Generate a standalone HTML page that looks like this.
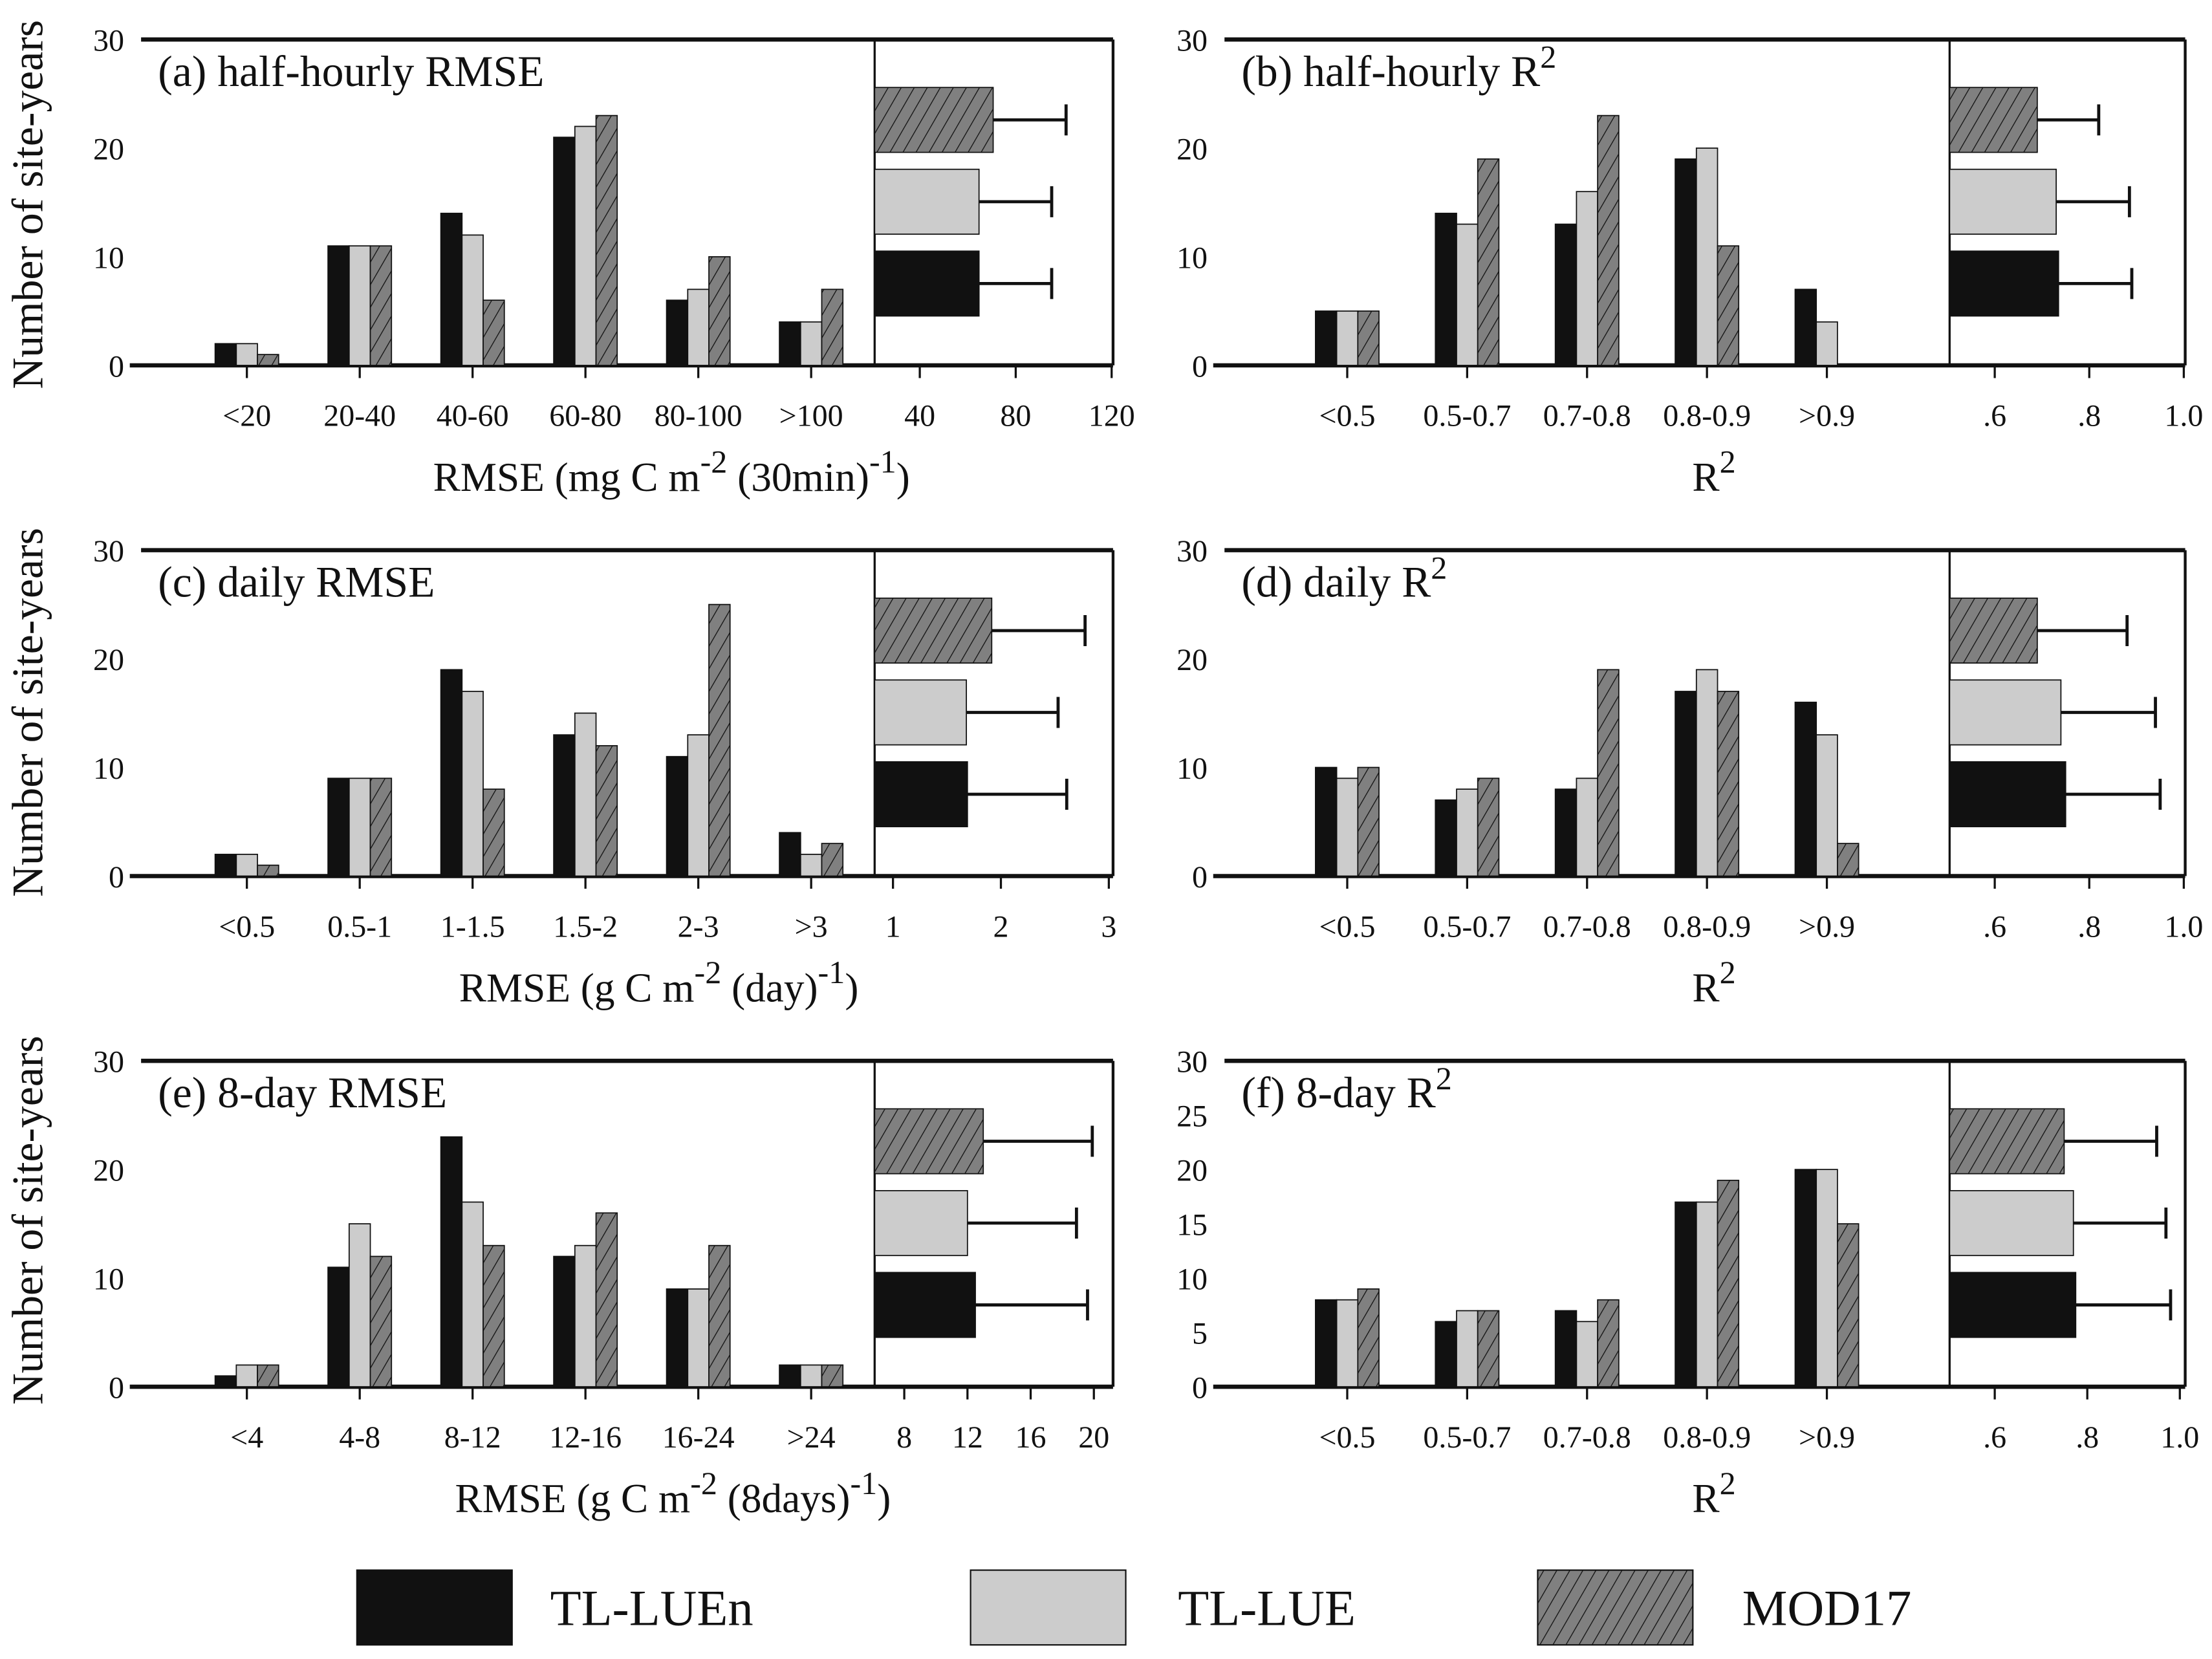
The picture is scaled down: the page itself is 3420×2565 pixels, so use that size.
<!DOCTYPE html>
<html><head><meta charset="utf-8"><style>
html,body{margin:0;padding:0;background:#fff}
svg{display:block}
text{font-family:"Liberation Serif",serif;fill:#111}
</style></head><body>
<svg id="c" width="3420" height="2565" viewBox="0 0 1568 1176" xmlns="http://www.w3.org/2000/svg">
<defs>
<pattern id="hatch" patternUnits="userSpaceOnUse" width="8" height="8" patternTransform="rotate(30)">
<rect width="8" height="8" fill="#808080"/><line x1="0" y1="0" x2="0" y2="8" stroke="#111" stroke-width="1.2"/>
</pattern>
</defs>
</svg>
<script>
const cats_rmse_a=["<20","20-40","40-60","60-80","80-100",">100"];
const cats_rmse_c=["<0.5","0.5-1","1-1.5","1.5-2","2-3",">3"];
const cats_rmse_e=["<4","4-8","8-12","12-16","16-24",">24"];
const cats_r2=["<0.5","0.5-0.7","0.7-0.8","0.8-0.9",">0.9"];
const a_luen=[2,11,14,21,6,4], a_lue=[2,11,12,22,7,4], a_mod=[1,11,6,23,10,7];
const b_luen=[5,14,13,19,7], b_lue=[5,13,16,20,4], b_mod=[5,19,23,11,0];
const c_luen=[2,9,19,13,11,4], c_lue=[2,9,17,15,13,2], c_mod=[1,9,8,12,25,3];
const d_luen=[10,7,8,17,16], d_lue=[9,8,9,19,13], d_mod=[10,9,19,17,3];
const e_luen=[1,11,23,12,9,2], e_lue=[2,15,17,13,9,2], e_mod=[2,12,13,16,13,2];
const f_luen=[8,6,7,17,20], f_lue=[8,7,6,17,20], f_mod=[9,7,8,19,15];
// inset means [MOD17, TL-LUE, TL-LUEn] and mean+sd
const a_mean=[70.6,64.7,64.7], a_err=[101,95,95];
const b_mean=[0.69,0.73,0.735], b_err=[0.82,0.885,0.89];
const c_mean=[1.915,1.68,1.69], c_err=[2.78,2.53,2.61];
const d_mean=[0.69,0.74,0.75], d_err=[0.88,0.94,0.95];
const e_mean=[13,12,12.5], e_err=[19.9,18.9,19.6];
const f_mean=[0.75,0.77,0.775], f_err=[0.95,0.97,0.98];
const a_ticks=[40,80,120], b_ticks=[0.6,0.8,1.0], c_ticks=[1,2,3], e_ticks=[8,12,16,20];
const b_tlab=[".6",".8","1.0"];
const y30=[0,10,20,30], y30f=[0,5,10,15,20,25,30];

const svg=document.getElementById('c');
const NS="http://www.w3.org/2000/svg";
function el(tag,attrs,parent){const e=document.createElementNS(NS,tag);for(const k in attrs)e.setAttribute(k,attrs[k]);(parent||svg).appendChild(e);return e;}
function txt(s,x,y,size,anchor,parent){const t=el('text',{x:x,y:y,'font-size':size,'text-anchor':anchor||'start'},parent);t.textContent=s;return t;}
const fills=["#111","#cccccc","url(#hatch)"];

function panel(o){
  const g=el('g',{});
  
  
  const top=o.top,bot=o.top+231;
  const yS=v=>bot-(v/30)*(bot-top);
  el('line',{x1:o.x0,y1:top,x2:o.x2,y2:top,stroke:'#111','stroke-width':3},g);
  el('line',{x1:o.x0-8,y1:bot,x2:o.x2,y2:bot,stroke:'#111','stroke-width':3},g);
  el('line',{x1:o.x1,y1:top,x2:o.x1,y2:bot,stroke:'#111','stroke-width':1.5},g);
  el('line',{x1:o.x2,y1:top,x2:o.x2,y2:bot,stroke:'#111','stroke-width':2},g);
  o.yt.forEach(v=>{txt(String(v),o.x0-12,yS(v)+8,22,'end',g);});
  o.cats.forEach((c,i)=>{
    const cx=o.cx0+i*o.dx;
    [o.s1,o.s2,o.s3].forEach((s,j)=>{
      const v=s[i]; if(v<=0)return;
      const r=el('rect',{x:cx-22.5+j*15,y:yS(v),width:15,height:bot-yS(v),fill:fills[j],stroke:'#111','stroke-width':0.8},g);
      
      
    });
    el('line',{x1:cx,y1:bot,x2:cx,y2:bot+9,stroke:'#111','stroke-width':1.5},g);
    const t=txt(c,cx,bot+43,22,'middle',g);
    
    
  });
  const xS=v=>o.ia+(v-o.iv0)*o.ik;
  o.it.forEach((v,k)=>{const x=xS(v);el('line',{x1:x,y1:bot,x2:x,y2:bot+9,stroke:'#111','stroke-width':1.5},g);txt(o.itl?o.itl[k]:String(v),x,bot+43,22,'middle',g);});
  const ys=[top+34,top+92,top+150], hfill=[fills[2],fills[1],fills[0]];
  o.mean.forEach((m,k)=>{
    const y=ys[k];
    const r=el('rect',{x:o.x1,y:y,width:xS(m)-o.x1,height:46,fill:hfill[k],stroke:'#111','stroke-width':0.8},g);
    
    
    el('line',{x1:xS(m),y1:y+23,x2:xS(o.err[k]),y2:y+23,stroke:'#111','stroke-width':2.2},g);
    el('line',{x1:xS(o.err[k]),y1:y+12,x2:xS(o.err[k]),y2:y+34,stroke:'#111','stroke-width':2.2},g);
  });
  const tt=el('text',{x:o.x0+12,y:top+33,'font-size':31},g);
  tt.innerHTML=o.title;
  
  
  const xt=el('text',{x:o.xtx,y:bot+89,'font-size':29,'text-anchor':'middle'},g);
  xt.innerHTML=o.xtitle;
  
  
}
const L={x0:100,x1:620,x2:789,cx0:175,dx:80}, R={x0:868,x1:1382,x2:1549,cx0:955,dx:85};
const sup=(s)=>'<tspan dy="-13" font-size="23">'+s+'</tspan><tspan dy="13">';
panel({...L,id:'a',name:'panel-a',top:28,cats:cats_rmse_a,s1:a_luen,s2:a_lue,s3:a_mod,yt:y30,ia:652,iv0:40,ik:1.7,it:a_ticks,mean:a_mean,err:a_err,title:'(a) half-hourly RMSE',xtx:476,xtitle:'RMSE (mg C m'+sup('-2')+' (30min)'+sup('-1')+')</tspan></tspan>'});
panel({...R,id:'b',name:'panel-b',top:28,cats:cats_r2,s1:b_luen,s2:b_lue,s3:b_mod,yt:y30,ia:1414,iv0:0.6,ik:335,it:b_ticks,itl:b_tlab,mean:b_mean,err:b_err,title:'(b) half-hourly R'+sup('2')+'</tspan>',xtx:1215,xtitle:'R'+sup('2')+'</tspan>'});
panel({...L,id:'c',name:'panel-c',top:390,cats:cats_rmse_c,s1:c_luen,s2:c_lue,s3:c_mod,yt:y30,ia:633,iv0:1,ik:76.5,it:c_ticks,mean:c_mean,err:c_err,title:'(c) daily RMSE',xtx:467,xtitle:'RMSE (g C m'+sup('-2')+' (day)'+sup('-1')+')</tspan></tspan>'});
panel({...R,id:'d',name:'panel-d',top:390,cats:cats_r2,s1:d_luen,s2:d_lue,s3:d_mod,yt:y30,ia:1414,iv0:0.6,ik:335,it:b_ticks,itl:b_tlab,mean:d_mean,err:d_err,title:'(d) daily R'+sup('2')+'</tspan>',xtx:1215,xtitle:'R'+sup('2')+'</tspan>'});
panel({...L,id:'e',name:'panel-e',top:752,cats:cats_rmse_e,s1:e_luen,s2:e_lue,s3:e_mod,yt:y30,ia:641,iv0:8,ik:11.2,it:e_ticks,mean:e_mean,err:e_err,title:'(e) 8-day RMSE',xtx:477,xtitle:'RMSE (g C m'+sup('-2')+' (8days)'+sup('-1')+')</tspan></tspan>'});
panel({...R,id:'f',name:'panel-f',top:752,cats:cats_r2,s1:f_luen,s2:f_lue,s3:f_mod,yt:y30f,ia:1414,iv0:0.6,ik:328,it:b_ticks,itl:b_tlab,mean:f_mean,err:f_err,title:'(f) 8-day R'+sup('2')+'</tspan>',xtx:1215,xtitle:'R'+sup('2')+'</tspan>'});
[145,505,865].forEach(y=>{const t=el('text',{x:0,y:0,'font-size':31,'text-anchor':'middle',transform:'translate(30,'+y+') rotate(-90)'});t.textContent='Number of site-years';

});
const leg=[["TL-LUEn",253,390],["TL-LUE",688,835],["MOD17",1090,1235]];
leg.forEach((l,k)=>{
  const r=el('rect',{x:l[1],y:1113,width:110,height:53,fill:fills[k],stroke:'#111','stroke-width':1});
  
  
  const t=txt(l[0],l[2],1152,36,'start');
  
  
});
</script>
</body></html>
